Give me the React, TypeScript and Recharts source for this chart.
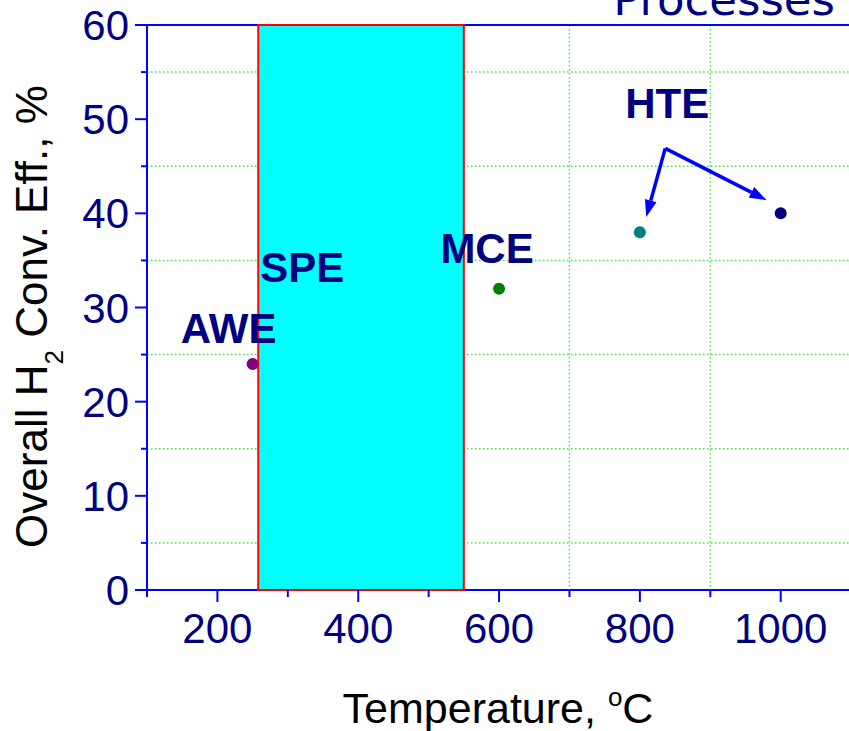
import React from 'react';
import {
  ScatterChart, Scatter, XAxis, YAxis, CartesianGrid, ReferenceArea,
  ReferenceLine, Cell,
} from 'recharts';

// temperature (°C) vs overall H2 conversion efficiency (%)
const aweData = [{ t: 250, eff: 24, label: 'AWE' }];
const mceData = [{ t: 600, eff: 32, label: 'MCE' }];
const hteData = [
  { t: 800, eff: 38 },
  { t: 1000, eff: 40 },
];
const hteColors = ['#008080', '#000080'];

// SPE operating window
const speRange = [258, 550];
const speLabel = 'SPE';

// HTE pointer arrows: from the label to each point
const hteArrowFrom = { t: 836, eff: 46.9 };
const hteArrowTo = [
  { t: 809, eff: 39.6 },
  { t: 980, eff: 41.4 },
];

const xTicks = [100, 200, 300, 400, 500, 600, 700, 800, 900, 1000];
const yTicks = [0, 5, 10, 15, 20, 25, 30, 35, 40, 45, 50, 55, 60];
const xGrid = [300, 500, 700, 900];
const yGrid = [5, 15, 25, 35, 45, 55];

const FONT = '"Liberation Sans", Arial, sans-serif';
const AXIS = '#0000ff';
const NAVY = '#000080';

const YTick = (props: any) => {
  const { x, y, payload } = props;
  const major = payload.value % 10 === 0;
  return (
    <g>
      <line x1={x - (major ? 12 : 6)} x2={x} y1={y} y2={y} stroke={AXIS} strokeWidth={2} />
      {major && (
        <text x={x - 18} y={y} dy={15} textAnchor="end" fontSize={42} fontFamily={FONT} fill={NAVY}>
          {payload.value}
        </text>
      )}
    </g>
  );
};

const XTick = (props: any) => {
  const { x, y, payload } = props;
  const major = payload.value % 200 === 0;
  return (
    <g>
      <line x1={x} x2={x} y1={y} y2={y + (major ? 12 : 7)} stroke={AXIS} strokeWidth={2} />
      {major && (
        <text x={x} y={y} dy={53} textAnchor="middle" fontSize={42} fontFamily={FONT} fill={NAVY}>
          {payload.value}
        </text>
      )}
    </g>
  );
};

// dot plus optional bold tag above-left
const dotShape = (dx: number, dy: number) => (props: any) => {
  const { cx, cy, fill, payload } = props;
  return (
    <g>
      <circle cx={cx} cy={cy} r={6} fill={fill} />
      {payload.label && (
        <text x={cx + dx} y={cy + dy} textAnchor="middle" fontSize={42} fontWeight="bold"
          fontFamily={FONT} fill={NAVY}>
          {payload.label}
        </text>
      )}
    </g>
  );
};

const Arrow = (props: any) => {
  const { x1, y1, x2, y2, text } = props;
  const a = Math.atan2(y2 - y1, x2 - x1);
  const L = 17;
  const W = 6;
  const bx = x2 - L * Math.cos(a);
  const by = y2 - L * Math.sin(a);
  const px = -Math.sin(a) * W;
  const py = Math.cos(a) * W;
  return (
    <g>
      <line x1={x1} y1={y1} x2={bx} y2={by} stroke={AXIS} strokeWidth={3.5} />
      <polygon points={`${x2},${y2} ${bx + px},${by + py} ${bx - px},${by - py}`} fill={AXIS} />
      {text && (
        <text x={x1 + 2} y={y1 - 30} textAnchor="middle" fontSize={42} fontWeight="bold"
          fontFamily={FONT} fill={NAVY}>
          {text}
        </text>
      )}
    </g>
  );
};

export default function App() {
  return (
    <div style={{ position: 'absolute', left: 0, top: 0, width: 849, height: 731, overflow: 'hidden', background: '#fff' }}>
      <ScatterChart width={849} height={731} margin={{ top: 25, right: 0, bottom: 0, left: 0 }}>
        <CartesianGrid
          horizontalValues={yGrid}
          verticalValues={xGrid}
          stroke="#22ff22"
          strokeWidth={1.5}
          strokeDasharray="1.5 2.5"
        />
        <XAxis
          dataKey="t"
          type="number"
          domain={[100, 1097]}
          allowDataOverflow
          ticks={xTicks}
          interval={0}
          tick={<XTick />}
          tickLine={false}
          tickSize={0}
          tickMargin={0}
          axisLine={{ stroke: AXIS, strokeWidth: 2 }}
          height={141}
          label={{
            content: ({ viewBox }: any) => (
              <text x={viewBox.x + viewBox.width / 2} y={723} textAnchor="middle"
                fontSize={43} fontFamily={FONT} fill="#000">
                Temperature, <tspan fontSize={26} dy={-17}>o</tspan>
                <tspan dy={17}>C</tspan>
              </text>
            ),
          }}
        />
        <YAxis
          dataKey="eff"
          type="number"
          domain={[0, 60]}
          ticks={yTicks}
          interval={0}
          tick={<YTick />}
          tickLine={false}
          tickSize={0}
          tickMargin={0}
          axisLine={{ stroke: AXIS, strokeWidth: 2 }}
          width={147}
          label={{
            content: ({ viewBox }: any) => {
              const cx = viewBox.x + 47;
              const cy = viewBox.y + viewBox.height / 2 + 9;
              return (
                <text x={cx} y={cy} transform={`rotate(-90 ${cx} ${cy})`} textAnchor="middle"
                  fontSize={44} fontFamily={FONT} fill="#000">
                  Overall H<tspan fontSize={26} dy={16}>2</tspan>
                  <tspan dy={-16}> Conv. Eff., %</tspan>
                </text>
              );
            },
          }}
        />
        <ReferenceLine
          y={60}
          stroke={AXIS}
          strokeWidth={2}
          label={{
            content: ({ viewBox }: any) => (
              <text x={viewBox.x + viewBox.width - 14} y={viewBox.y - 10} textAnchor="end"
                fontSize={45} fontFamily='"DejaVu Sans", sans-serif' fill={NAVY}>
                Processes
              </text>
            ),
          }}
        />
        <ReferenceArea
          x1={speRange[0]}
          x2={speRange[1]}
          y1={0}
          y2={60}
          fill="#00ffff"
          fillOpacity={1}
          stroke="#ff0000"
          strokeWidth={2}
          zIndex={600}
          label={{
            content: ({ viewBox }: any) => (
              <text x={viewBox.x + 2} y={viewBox.y + viewBox.height * 0.455} fontSize={42}
                fontWeight="bold" fontFamily={FONT} fill={NAVY}>
                {speLabel}
              </text>
            ),
          }}
        />
        {hteArrowTo.map((p, i) => (
          <ReferenceLine
            key={i}
            segment={[{ x: hteArrowFrom.t, y: hteArrowFrom.eff }, { x: p.t, y: p.eff }]}
            shape={(props: any) => <Arrow {...props} text={i === 0 ? 'HTE' : undefined} />}
          />
        ))}
        <Scatter data={aweData} fill="#800080" shape={dotShape(-24, -21)} zIndex={700} isAnimationActive={false} />
        <Scatter data={mceData} fill="#008000" shape={dotShape(-12, -26)} zIndex={700} isAnimationActive={false} />
        <Scatter data={hteData} shape={dotShape(0, 0)} zIndex={700} isAnimationActive={false}>
          {hteData.map((_, i) => (
            <Cell key={i} fill={hteColors[i]} />
          ))}
        </Scatter>
      </ScatterChart>
    </div>
  );
}
